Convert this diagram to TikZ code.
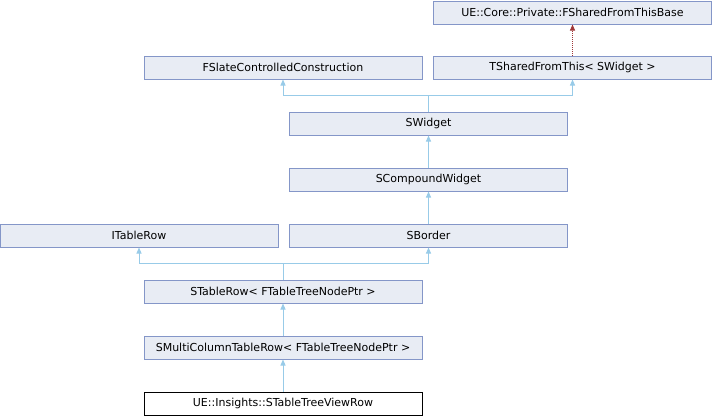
\documentclass[tikz,border=0pt]{standalone}
\usepackage{fontspec}
\setmainfont{DejaVu Sans}
\usetikzlibrary{positioning, arrows.meta}
\definecolor{boxfill}{HTML}{E8ECF4}
\definecolor{boxline}{HTML}{8496C8}
\definecolor{inhline}{HTML}{98CBE8}
\definecolor{privline}{HTML}{A03838}

\begin{document}
\begin{tikzpicture}[x=1pt, y=-1pt,
    cls/.style={rectangle, draw=boxline, fill=boxfill, line width=1pt, minimum width=278pt, minimum height=23pt, inner sep=0pt, font=\fontsize{11}{13}\selectfont},
    link/.style={draw=inhline, line width=1pt},
    inh/.style={link, -{Triangle[width=5pt, length=6pt]}},
    priv/.style={draw=privline, line width=1pt, dash pattern=on 1pt off 1pt, -{Triangle[width=5pt, length=6pt]}}]
                    \useasboundingbox (0, 0) rectangle (712, 416);

                    \node[cls] (base) at (572.5, 12.5) {UE::Core::Private::FSharedFromThisBase};
                    \node[cls] (slate) at (283, 67.5) {FSlateControlledConstruction};
                    \node[cls] (shared) at (572.5, 67.5) {TSharedFromThis< SWidget >};
                    \node[cls] (widget) at (428.5, 123.5) {SWidget};
                    \node[cls] (compound) at (428.5, 179.5) {SCompoundWidget};
                    \node[cls] (itablerow) at (139, 235.5) {ITableRow};
                    \node[cls] (border) at (428.5, 235.5) {SBorder};
                    \node[cls] (tablerow) at (283, 291.5) {STableRow< FTableTreeNodePtr >};
                    \node[cls] (multirow) at (283, 347.5) {SMultiColumnTableRow< FTableTreeNodePtr >};
                    \node[cls, draw=black, fill=white] (viewrow) at (283, 403.5) {UE::Insights::STableTreeViewRow};

                    \coordinate (j1) at (428.5, 95.5);
                    \coordinate (j2) at (283, 263.5);

                    \draw[priv] (shared.north) -- (base.south);
                    \draw[link] (widget.north) -- (j1);
                    \draw[inh] (j1) -| (slate.south);
                    \draw[inh] (j1) -| (shared.south);
                    \draw[inh] (compound.north) -- (widget.south);
                    \draw[inh] (border.north) -- (compound.south);
                    \draw[link] (tablerow.north) -- (j2);
                    \draw[inh] (j2) -| (itablerow.south);
                    \draw[inh] (j2) -| (border.south);
                    \draw[inh] (multirow.north) -- (tablerow.south);
                    \draw[inh] (viewrow.north) -- (multirow.south);
                \end{tikzpicture}
\end{document}
